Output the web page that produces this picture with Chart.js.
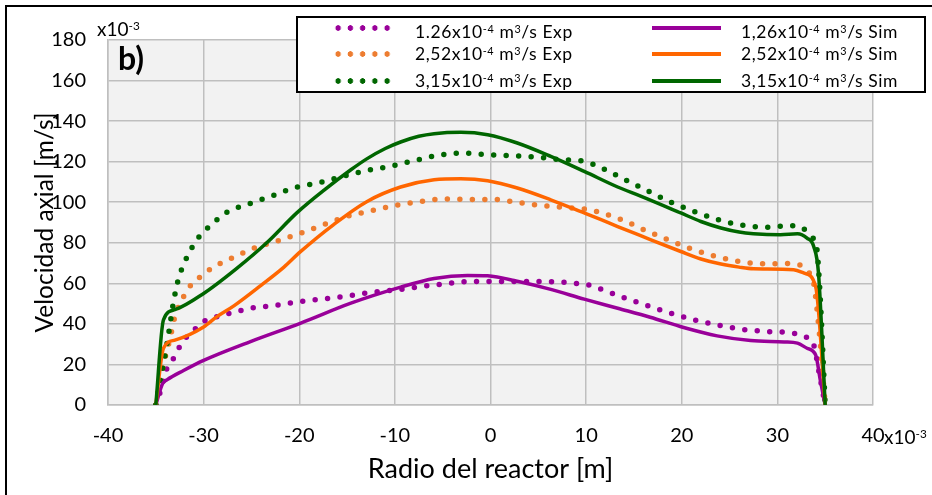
<!DOCTYPE html>
<html>
<head>
<meta charset="utf-8">
<script src="https://cdn.jsdelivr.net/npm/chart.js@4.4.1/dist/chart.umd.min.js"></script>
<style>
  html, body { margin: 0; padding: 0; background: #fff; }
  #wrap { position: relative; width: 932px; height: 495px; overflow: hidden; font-family: Lato, 'Open Sans', sans-serif; color: #000; }
  #frame { position: absolute; left: 5px; top: 5px; width: 940px; height: 500px; border-left: 2px solid #000; border-top: 2px solid #000; }
  #chart { position: absolute; left: 0; top: 0; }
  .txt { position: absolute; white-space: nowrap; line-height: 1; }
  .txt sup { font-size: 0.62em; position: relative; top: -0.5em; vertical-align: 0; }
  #legend { position: absolute; left: 296px; top: 16px; width: 626px; height: 73px; border: 2px solid #000; background: #fff; }
  .dots { position: absolute; left: 34px; width: 61.25px; height: 6px; background-size: 12.25px 6px; background-repeat: repeat-x; }
  .solid { position: absolute; left: 354px; width: 69px; height: 4px; }
  .ltxt { position: absolute; white-space: nowrap; font-size: 17.5px; letter-spacing: 0.6px; line-height: 1; transform: translateY(-50%); }
  .ltxt sup { font-size: 0.62em; position: relative; top: -0.5em; vertical-align: 0; }
</style>
</head>
<body>
<div id="wrap">
  <canvas id="chart" width="932" height="495"></canvas>
  <div id="frame"></div>
  <div class="txt" style="left:97px; top:19px; font-size:19px;">x10<sup>-3</sup></div>
  <div class="txt" style="left:118px; top:42px; font-size:32px; font-weight:bold;">b)</div>
  <div class="txt" style="left:884px; top:427px; font-size:19px;">x10<sup>-3</sup></div>
  <div id="legend"></div>
</div>
<script>
// ---- data (radius in mm, i.e. x10^-3 m; velocity in x10^-3 m/s) ----
const expRadius1 = [-35, -34.5, -33.9, -33.2, -32.6, -31.9, -31, -30, -28.8, -27.5, -25.1, -22.6, -20, -17.5, -14.9, -12.4, -9.8, -7.3, -4.8, -2.2, 0.3, 3, 5.5, 8, 9.3, 10.5, 11.8, 14.2, 16.6, 19, 21.5, 24, 26.5, 29.1, 31.7, 32.9, 33.8, 34.4, 35];
const expVel1    = [0, 7, 17.3, 22.6, 28, 32.9, 37, 41.2, 43.3, 44.9, 47.7, 49, 51, 52.3, 53.8, 55.6, 56.8, 58.4, 59.7, 60.9, 60.9, 60.9, 60.9, 60.4, 59.8, 58.9, 56.7, 52.5, 48.7, 45.1, 41.8, 39.2, 37.2, 36.2, 35.4, 33.7, 29.6, 15, 0];

const expRadius2 = [-35, -34.2, -33.5, -33, -32, -31.3, -30.3, -29.3, -28.2, -27, -24.7, -22.2, -19.8, -17.4, -15, -12.5, -10, -7.5, -4.9, -2.3, 0.2, 2.8, 5.2, 7.8, 10.3, 11.6, 13.9, 16.3, 18.7, 21, 23.5, 26, 28.6, 31.1, 32.4, 33.3, 33.8, 34.4, 35];
const expVel2    = [0, 20, 33, 43.6, 54.3, 59.3, 63.4, 67, 70, 72.6, 77.4, 81, 84.8, 89, 93, 95.8, 98.4, 100.2, 101.6, 101.4, 101.4, 99.9, 98.4, 97.4, 96.3, 94.8, 91, 85.9, 81.2, 77, 73.4, 70.8, 69.6, 69.8, 69, 65.4, 60, 35, 0];

const expRadius3 = [-35, -34.2, -33.6, -33.2, -32.7, -31.8, -30.5, -29.6, -28.7, -27.6, -25.2, -22.8, -20.4, -18, -15.5, -13, -10.5, -8, -5.6, -3, -0.5, 2.1, 4.7, 7.2, 9.8, 11, 12.2, 14.4, 16.7, 19, 21.4, 23.8, 26.4, 28.9, 31.5, 32.7, 33.5, 34.1, 34.4, 35];
const expVel3    = [0, 20, 37, 49.4, 61, 72.4, 82.8, 87.2, 91, 95, 99.3, 103.2, 107.3, 109.5, 112.7, 115.6, 117.7, 120.5, 123, 124.3, 123.5, 123, 122.3, 121, 120.2, 118.2, 115.6, 110.3, 105, 99.7, 95.3, 91.4, 88.6, 87.7, 88.4, 87.1, 83.1, 77.9, 60, 0];

const simRadius1 = [-35, -34.3, -33.8, -32.1, -30, -25.1, -19.9, -14.6, -9.4, -5.9, -2.4, -0.3, 2.8, 6.3, 9.8, 13.3, 16.7, 20.2, 23.7, 27.2, 30.7, 32.1, 33.1, 34, 34.5, 35];
const simVel1    = [0, 10.5, 12.5, 17, 22, 31.3, 40.3, 50.2, 58.1, 62.4, 63.9, 63.7, 61, 57, 52.2, 47.7, 43.3, 38.2, 34.1, 31.8, 31.1, 30.5, 28, 24.7, 12, 0];

const simRadius2 = [-35, -34.2, -33, -30, -28.6, -26.8, -24, -21.6, -19.9, -16.4, -12.9, -9.4, -5.9, -3.1, -0.3, 2.8, 6.3, 9.8, 11.5, 13.3, 15.7, 19.9, 22, 24.1, 26, 27.5, 31.7, 32.8, 34, 35];
const simVel2    = [0, 28, 32, 38.5, 43.6, 49, 59, 68, 75.5, 89, 100.4, 107.5, 111.1, 111.6, 110.6, 107, 101.2, 94.7, 91.5, 88, 83.5, 75.7, 72, 69.5, 68, 67.2, 66.7, 65, 58.4, 0];

const simRadius3 = [-35, -34.2, -33, -30, -26.5, -23.4, -20.2, -17.4, -14.6, -12.9, -11, -9.4, -7.5, -5.9, -3.1, -0.3, 2.8, 6.3, 9.8, 13.3, 15.7, 19.9, 22, 24.1, 26, 27.5, 30.3, 32.1, 33.1, 33.8, 34.3, 35];
const simVel3    = [0, 42, 47, 55, 67.5, 80, 95, 106, 116, 121.5, 126.5, 129.7, 132.5, 133.8, 134.5, 133.3, 129.2, 122.6, 115.2, 107.5, 103, 94.7, 90.5, 87.3, 85.3, 84.5, 84, 84.4, 82.3, 78.2, 65, 0];

const xTicks = [-40, -30, -20, -10, 0, 10, 20, 30, 40];
const yTicks = [0, 20, 40, 60, 80, 100, 120, 140, 160, 180];

const PURPLE = '#990099';
const ORANGE_EXP = '#ed7d31';
const ORANGE_SIM = '#ff6600';
const GREEN = '#006600';

const legendItems = [
    { label: '1.26x10<sup>-4</sup> m<sup>3</sup>/s Exp', color: PURPLE, dotted: true },
    { label: '2,52x10<sup>-4</sup> m<sup>3</sup>/s Exp', color: ORANGE_EXP, dotted: true },
    { label: '3,15x10<sup>-4</sup> m<sup>3</sup>/s Exp', color: GREEN, dotted: true },
    { label: '1,26x10<sup>-4</sup> m<sup>3</sup>/s Sim', color: PURPLE, dotted: false },
    { label: '2,52x10<sup>-4</sup> m<sup>3</sup>/s Sim', color: ORANGE_SIM, dotted: false },
    { label: '3,15x10<sup>-4</sup> m<sup>3</sup>/s Sim', color: GREEN, dotted: false },
];

const FONT = "Lato, 'Open Sans', sans-serif";

function toPoints(xs, ys) {
    return xs.map((x, i) => ({ x: x, y: ys[i] }));
}

function expSet(label, xs, ys, color, order) {
    return {
        label, data: toPoints(xs, ys), showLine: true,
        borderColor: color, backgroundColor: color,
        borderWidth: 5.5, borderDash: [0, 12.5], borderCapStyle: 'round',
        cubicInterpolationMode: 'monotone', pointRadius: 0, order
    };
}

function simSet(label, xs, ys, color, order) {
    return {
        label, data: toPoints(xs, ys), showLine: true,
        borderColor: color, backgroundColor: color,
        borderWidth: 3.5, borderCapStyle: 'round', borderJoinStyle: 'round',
        cubicInterpolationMode: 'monotone', pointRadius: 0, order
    };
}

// grey plot area like the Excel chart
const plotBg = {
    id: 'plotBg',
    beforeDraw(chart) {
        const { ctx, chartArea: a } = chart;
        ctx.save();
        ctx.fillStyle = '#f2f2f2';
        ctx.fillRect(a.left, a.top, a.right - a.left, a.bottom - a.top);
        ctx.restore();
    }
};

// legend, two columns, as html so the superscripts stay real text
const sampleY = [10, 36, 63];
const textY = [14, 36, 63];
document.getElementById('legend').innerHTML = legendItems.map((it, i) => {
    const y = sampleY[i % 3];
    const sample = it.dotted
        ? `<div class="dots" style="top:${y - 3}px;background-image:radial-gradient(circle at center, ${it.color} 2.5px, transparent 3px);"></div>`
        : `<div class="solid" style="top:${y - 2}px;background:${it.color};"></div>`;
    const left = it.dotted ? 117 : 443;
    return sample + `<div class="ltxt" style="left:${left}px;top:${textY[i % 3]}px;">${it.label}</div>`;
}).join('');

new Chart(document.getElementById('chart'), {
    type: 'scatter',
    data: {
        datasets: [
            simSet('3,15x10-4 m3/s Sim', simRadius3, simVel3, GREEN, 1),
            simSet('2,52x10-4 m3/s Sim', simRadius2, simVel2, ORANGE_SIM, 2),
            simSet('1,26x10-4 m3/s Sim', simRadius1, simVel1, PURPLE, 3),
            expSet('3,15x10-4 m3/s Exp', expRadius3, expVel3, GREEN, 4),
            expSet('2,52x10-4 m3/s Exp', expRadius2, expVel2, ORANGE_EXP, 5),
            expSet('1.26x10-4 m3/s Exp', expRadius1, expVel1, PURPLE, 6),
        ]
    },
    options: {
        responsive: false,
        animation: false,
        layout: { padding: { left: 8, top: 40, right: 59, bottom: 0 } },
        plugins: { legend: { display: false }, tooltip: { enabled: false } },
        scales: {
            x: {
                type: 'linear', min: xTicks[0], max: xTicks[xTicks.length - 1],
                afterBuildTicks: s => { s.ticks = xTicks.map(v => ({ value: v })); },
                afterFit: s => { s.height = 90; },
                ticks: { color: '#000', font: { family: FONT, size: 20 }, padding: 19, maxRotation: 0 },
                grid: { color: '#bfbfbf', lineWidth: 1.5, drawTicks: false },
                border: { color: '#bfbfbf', width: 1.5 },
                title: { display: true, text: 'Radio del reactor [m]', color: '#000', font: { family: FONT, size: 27 }, padding: { bottom: 10 } }
            },
            y: {
                type: 'linear', min: yTicks[0], max: yTicks[yTicks.length - 1],
                afterBuildTicks: s => { s.ticks = yTicks.map(v => ({ value: v })); },
                afterFit: s => { s.width = 100; },
                ticks: { color: '#000', font: { family: FONT, size: 20 }, padding: 22 },
                grid: { color: '#bfbfbf', lineWidth: 1.5, drawTicks: false },
                border: { color: '#bfbfbf', width: 1.5 },
                title: { display: true, text: 'Velocidad axial [m/s]', color: '#000', font: { family: FONT, size: 24.5 }, padding: { top: 22 } }
            }
        }
    },
    plugins: [plotBg]
});
</script>
</body>
</html>
